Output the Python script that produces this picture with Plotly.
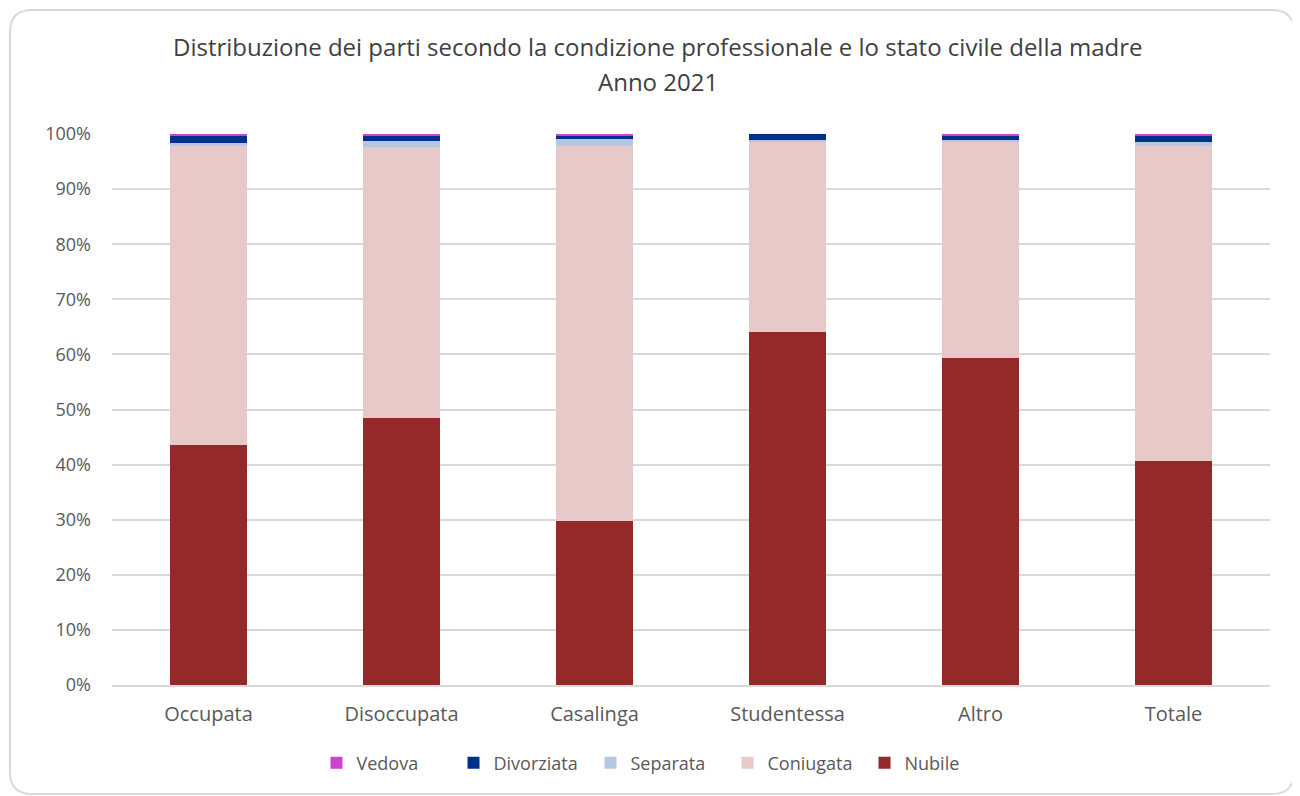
import plotly.graph_objects as go

categories = ["Occupata", "Disoccupata", "Casalinga", "Studentessa", "Altro", "Totale"]
nubile = [43.6, 48.5, 29.8, 64.1, 59.3, 40.7]
coniugata = [54.2, 49.1, 68.1, 34.5, 39.3, 57.1]
separata = [0.6, 1.1, 1.2, 0.4, 0.4, 0.8]
divorziata = [1.4, 1.1, 0.7, 1.0, 0.8, 1.2]
vedova = [0.2, 0.2, 0.2, 0.0, 0.2, 0.2]

title_lines = ["Distribuzione dei parti secondo la condizione professionale e lo stato civile della madre",
               "Anno 2021"]

series = [
    ("Nubile", nubile, "#952828"),
    ("Coniugata", coniugata, "#E8C9C9"),
    ("Separata", separata, "#B4C9DF"),
    ("Divorziata", divorziata, "#003087"),
    ("Vedova", vedova, "#CC44CC"),
]

fig = go.Figure()
for name, vals, col in series:
    fig.add_trace(go.Bar(x=categories, y=vals, name=name, marker_color=col,
                         marker_line_width=0, width=0.4))

# page has an 8px body margin; figure sized so plot area lands at the right pixels
W, H = 1292, 788
pl, pr, pt, pb = 104, 30, 126, 111
pw, ph = W - pl - pr, H - pt - pb
def px(x):
    return (x - pl) / pw
def py(y):
    return (H - pb - y) / ph

font_fam = "Open Sans, Noto Sans, sans-serif"

x0, x1, y0, y1, r = 2, 1286, 2, 786, 22
path = (f"M {px(x0+r)},{py(y0)} L {px(x1-r)},{py(y0)} "
        f"Q {px(x1)},{py(y0)} {px(x1)},{py(y0+r)} L {px(x1)},{py(y1-r)} "
        f"Q {px(x1)},{py(y1)} {px(x1-r)},{py(y1)} L {px(x0+r)},{py(y1)} "
        f"Q {px(x0)},{py(y1)} {px(x0)},{py(y1-r)} L {px(x0)},{py(y0+r)} "
        f"Q {px(x0)},{py(y0)} {px(x0+r)},{py(y0)} Z")

fig.update_layout(
    barmode="stack",
    width=W, height=H,
    paper_bgcolor="white", plot_bgcolor="white",
    margin=dict(l=pl, r=pr, t=pt, b=pb),
    font=dict(family=font_fam, color="#595959"),
    legend=dict(orientation="h", traceorder="reversed", x=px(651), xanchor="center",
                y=py(755), yanchor="middle", font=dict(size=18, color="#595959"),
                itemwidth=30, entrywidth=92),
    annotations=[
        dict(text=title_lines[0], xref="paper", yref="paper", x=px(650), y=py(39),
             xanchor="center", yanchor="middle", showarrow=False,
             font=dict(size=24, color="#404040")),
        dict(text=title_lines[1], xref="paper", yref="paper", x=px(650), y=py(74),
             xanchor="center", yanchor="middle", showarrow=False,
             font=dict(size=24, color="#404040")),
    ],
    shapes=[dict(type="path", xref="paper", yref="paper", path=path,
                 line=dict(color="#D9D9D9", width=2), layer="below")],
)
fig.update_yaxes(range=[0, 100], dtick=10, ticksuffix="%", showgrid=True,
                 gridcolor="#D9D9D9", gridwidth=1.5, zeroline=False,
                 tickfont=dict(size=18, color="#595959"), ticks="",
                 ticklabelstandoff=20)
fig.update_xaxes(showline=True, linecolor="#D9D9D9", linewidth=1.5,
                 tickfont=dict(size=20, color="#595959"), ticks="",
                 ticklabelstandoff=10)

fig.write_html("out.html")
